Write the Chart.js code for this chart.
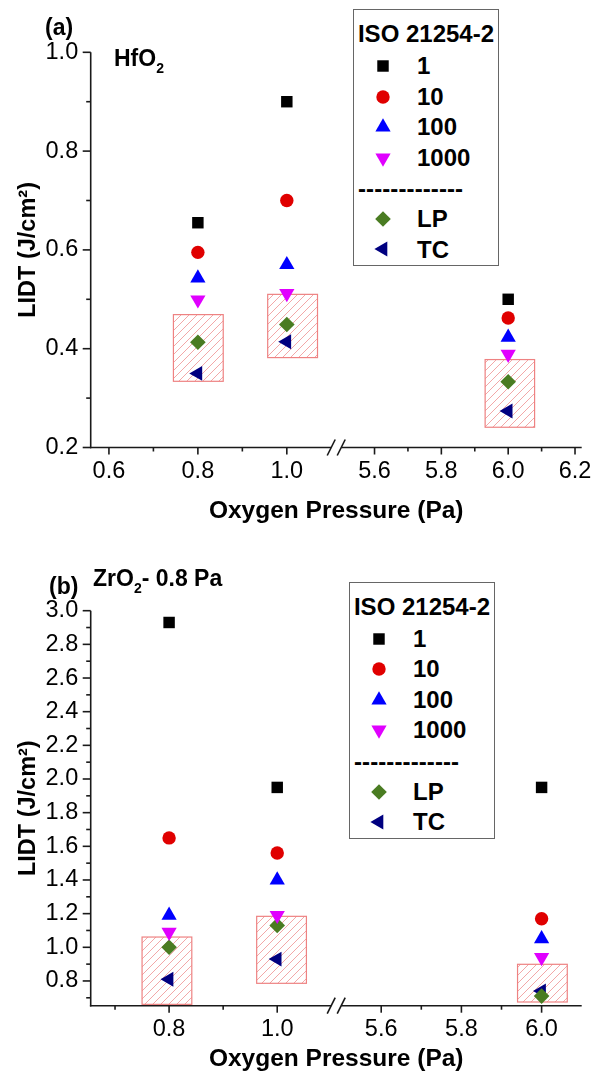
<!DOCTYPE html>
<html>
<head>
<meta charset="utf-8">
<script src="https://cdn.jsdelivr.net/npm/chart.js@4.4.1/dist/chart.umd.min.js"></script>
<style>
  body { margin: 0; background: #fff; font-family: 'Liberation Sans', Arial, sans-serif; }
  #page { position: relative; width: 602px; height: 1083px; overflow: hidden; background: #fff; }
  .panel { position: absolute; left: 0; }
  .note { position: absolute; font-size: 23px; font-weight: bold; line-height: 1; white-space: nowrap; color: #000; }
  .note .sub { font-size: 14px; position: relative; top: 7px; }
  .legend { position: absolute; box-sizing: border-box; width: 146px; height: 257px; border: 1px solid #666; background: #fff; }
  .legend .txt { position: absolute; font-size: 24px; font-weight: bold; line-height: 1; white-space: nowrap; color: #000; }
  .legend canvas { position: absolute; }
</style>
</head>
<body>
<div id="page">
  <canvas id="hfChart" class="panel" width="602" height="541" style="top:0"></canvas>
  <canvas id="zrChart" class="panel" width="602" height="542" style="top:541px"></canvas>
  <div class="note" style="left:45px; top:16px">(a)</div>
  <div class="note" style="left:114px; top:47px">HfO<span class="sub">2</span></div>
  <div class="note" style="left:49px; top:575px">(b)</div>
  <div class="note" style="left:93px; top:567px">ZrO<span class="sub">2</span>- 0.8 Pa</div>
</div>
<script>
// oxygen pressure of each sample (Pa)
const pressures = [0.8, 1.0, 6.0];
const seriesLabels = ['1', '10', '100', '1000', 'LP', 'TC'];

// HfO2: LIDT (J/cm²) per ISO 21254-2 shot number, then LP and TC
const hfShot1 = [0.655, 0.900, 0.500];
const hfShot10 = [0.595, 0.700, 0.462];
const hfShot100 = [0.543, 0.570, 0.423];
const hfShot1000 = [0.499, 0.512, 0.389];
const hfLP = [0.413, 0.449, 0.333];
const hfTC = [0.350, 0.414, 0.274];
// hatched ranges
const hfBoxFrom = [0.745, 0.957, 5.931];
const hfBoxTo = [0.857, 1.069, 6.079];
const hfBoxLow = [0.334, 0.382, 0.241];
const hfBoxHigh = [0.469, 0.510, 0.378];

// ZrO2
const zrShot1 = [2.93, 1.95, 1.95];
const zrShot10 = [1.65, 1.56, 1.17];
const zrShot100 = [1.19, 1.40, 1.05];
const zrShot1000 = [1.09, 1.19, 0.94];
const zrLP = [1.00, 1.13, 0.71];
const zrTC = [0.81, 0.93, 0.74];
const zrBoxFrom = [0.750, 0.962, 5.940];
const zrBoxTo = [0.842, 1.054, 6.064];
const zrBoxLow = [0.661, 0.786, 0.675];
const zrBoxHigh = [1.061, 1.184, 0.899];

// axis ranges (x is broken between 1.1 and 5.5)
const hfXLeft = [0.559, 1.1];
const hfXRight = [5.5, 6.22];
const hfYRange = [0.2, 1.0];
const zrXLeft = [0.655, 1.1];
const zrXRight = [5.5, 6.1];
const zrYRange = [0.653, 3.0];

// tick labels
const hfXTicks = [0.6, 0.8, 1.0, 5.6, 5.8, 6.0, 6.2];
const hfXMinor = [0.7, 0.9, 5.7, 5.9, 6.1];
const hfYTicks = [0.2, 0.4, 0.6, 0.8, 1.0];
const hfYMinor = [0.3, 0.5, 0.7, 0.9];
const zrXTicks = [0.8, 1.0, 5.6, 5.8, 6.0];
const zrXMinor = [0.7, 0.9, 5.7, 5.9];
const zrYTicks = [0.8, 1.0, 1.2, 1.4, 1.6, 1.8, 2.0, 2.2, 2.4, 2.6, 2.8, 3.0];
const zrYMinor = [0.7, 0.9, 1.1, 1.3, 1.5, 1.7, 1.9, 2.1, 2.3, 2.5, 2.7, 2.9];

const FONT = "'Liberation Sans', Arial, sans-serif";

const seriesStyle = [
  { pointStyle: 'rect', radius: 8.1, rotation: 0, color: '#000000' },
  { pointStyle: 'circle', radius: 6.7, rotation: 0, color: '#e00000' },
  { pointStyle: 'triangle', radius: 8.8, rotation: 0, color: '#0000ff' },
  { pointStyle: 'triangle', radius: 8.8, rotation: 180, color: '#e000ff' },
  { pointStyle: 'rectRot', radius: 7.8, rotation: 0, color: '#4a7c22' },
  { pointStyle: 'triangle', radius: 8.6, rotation: -90, color: '#000080' }
];

// split: share of the axis length given to the left part, gap: share left blank at the break
const axisBreaks = {};

class BrokenLinearScale extends Chart.LinearScale {
  static id = 'brokenLinear';
  static defaults = Chart.LinearScale.defaults;

  get brk() { return axisBreaks[this.chart.canvas.id]; }

  buildTicks() {
    const b = this.brk;
    this._startValue = this.min;
    this._endValue = this.max;
    return [...b.major, ...b.minor].sort((p, q) => p - q).map(v => ({ value: v }));
  }

  getPixelForValue(value) {
    const b = this.brk;
    let d;
    if (value <= (b.left[1] + b.right[0]) / 2) {
      d = (value - b.left[0]) / (b.left[1] - b.left[0]) * b.split;
    } else {
      d = b.split + b.gap + (value - b.right[0]) / (b.right[1] - b.right[0]) * (1 - b.split - b.gap);
    }
    return this.getPixelForDecimal(d);
  }

  getValueForPixel(pixel) {
    const b = this.brk;
    const d = this.getDecimalForPixel(pixel);
    if (d <= b.split + b.gap / 2) return b.left[0] + d / b.split * (b.left[1] - b.left[0]);
    return b.right[0] + (d - b.split - b.gap) / (1 - b.split - b.gap) * (b.right[1] - b.right[0]);
  }
}
Chart.register(BrokenLinearScale);

function isIn(list, v) {
  return list.some(t => Math.abs(t - v) < 1e-9);
}

function makeHatch(ctx) {
  const s = 8;
  const c = document.createElement('canvas');
  c.width = s; c.height = s;
  const p = c.getContext('2d');
  p.strokeStyle = 'rgba(238, 140, 140, 0.85)';
  p.lineWidth = 0.9;
  p.beginPath();
  p.moveTo(0, s); p.lineTo(s, 0);
  p.moveTo(-1, 1); p.lineTo(1, -1);
  p.moveTo(s - 1, s + 1); p.lineTo(s + 1, s - 1);
  p.stroke();
  return ctx.createPattern(c, 'repeat');
}

// hatched ranges, axis lines, tick marks and the break symbol
function framePlugin(cfg) {
  return {
    id: 'frame',
    beforeDatasetsDraw(chart) {
      const { ctx, chartArea: a, scales: { x, y } } = chart;
      const b = axisBreaks[chart.canvas.id];
      ctx.save();

      const hatch = makeHatch(ctx);
      cfg.boxFrom.forEach((from, i) => {
        const x0 = x.getPixelForValue(from), x1 = x.getPixelForValue(cfg.boxTo[i]);
        const y0 = y.getPixelForValue(cfg.boxHigh[i]), y1 = y.getPixelForValue(cfg.boxLow[i]);
        ctx.fillStyle = hatch;
        ctx.fillRect(x0, y0, x1 - x0, y1 - y0);
        ctx.strokeStyle = '#ee8282';
        ctx.lineWidth = 1.2;
        ctx.strokeRect(x0, y0, x1 - x0, y1 - y0);
      });

      ctx.strokeStyle = '#1a1a1a';
      ctx.lineWidth = 1.6;
      ctx.lineCap = 'butt';
      const line = (x0, y0, x1, y1) => { ctx.beginPath(); ctx.moveTo(x0, y0); ctx.lineTo(x1, y1); ctx.stroke(); };

      // y axis
      line(a.left, a.top, a.left, a.bottom + 0.8);
      cfg.yMajor.forEach(v => { const py = y.getPixelForValue(v); line(a.left - 8, py, a.left, py); });
      cfg.yMinor.forEach(v => { const py = y.getPixelForValue(v); line(a.left - 4.5, py, a.left, py); });

      // x axis with break
      const bx = x.getPixelForDecimal(b.split + b.gap / 2);
      line(a.left - 0.8, a.bottom, bx - 5, a.bottom);
      line(bx + 5, a.bottom, a.right, a.bottom);
      [bx - 5, bx + 5].forEach(c => line(c - 4, a.bottom + 8, c + 4, a.bottom - 8));
      cfg.xMajor.forEach(v => { const px = x.getPixelForValue(v); line(px, a.bottom, px, a.bottom + 7); });
      cfg.xMinor.forEach(v => { const px = x.getPixelForValue(v); line(px, a.bottom, px, a.bottom + 4); });

      ctx.restore();
    }
  };
}

function makePanel(cfg) {
  axisBreaks[cfg.id] = { left: cfg.xLeft, right: cfg.xRight, split: 0.49, gap: 0.02, major: cfg.xMajor, minor: cfg.xMinor };
  const yAll = [...cfg.yMajor, ...cfg.yMinor].sort((p, q) => p - q);

  const datasets = cfg.series.map((vals, k) => ({
    label: seriesLabels[k],
    data: pressures.map((p, i) => ({ x: p, y: vals[i] })),
    pointStyle: seriesStyle[k].pointStyle,
    pointRadius: seriesStyle[k].radius,
    rotation: seriesStyle[k].rotation,
    backgroundColor: seriesStyle[k].color,
    borderColor: seriesStyle[k].color,
    borderWidth: 0,
    showLine: false,
    clip: false
  }));

  const tickFont = { family: FONT, size: 23.5 };
  const hiddenGrid = { display: true, drawOnChartArea: false, drawTicks: true, color: 'rgba(0,0,0,0)', tickColor: 'rgba(0,0,0,0)' };

  return new Chart(document.getElementById(cfg.id), {
    type: 'scatter',
    data: { datasets },
    options: {
      responsive: false,
      animation: false,
      events: [],
      layout: { padding: { top: cfg.padTop, right: 20.3, left: 0, bottom: 0 } },
      plugins: { legend: { display: false }, tooltip: { enabled: false } },
      scales: {
        x: {
          type: 'brokenLinear',
          position: 'bottom',
          min: cfg.xLeft[0],
          max: cfg.xRight[1],
          grid: { ...hiddenGrid, tickLength: 7 },
          border: { display: false },
          ticks: {
            autoSkip: false, maxRotation: 0, minRotation: 0, padding: 3,
            color: '#000', font: tickFont,
            callback: v => isIn(cfg.xMajor, v) ? v.toFixed(1) : ''
          },
          title: { display: true, text: 'Oxygen Pressure (Pa)', color: '#000', font: { family: FONT, size: 24.5, weight: 'bold' }, padding: { top: 0, bottom: cfg.xTitlePad } },
          afterFit: s => { s.height = cfg.xHeight; }
        },
        y: {
          type: 'linear',
          min: cfg.yRange[0],
          max: cfg.yRange[1],
          afterBuildTicks: s => { s.ticks = yAll.map(v => ({ value: v })); },
          grid: { ...hiddenGrid, tickLength: 8 },
          border: { display: false },
          ticks: {
            autoSkip: false, padding: 4.5,
            color: '#000', font: tickFont,
            callback: v => isIn(cfg.yMajor, v) ? v.toFixed(1) : ''
          },
          title: { display: true, text: 'LIDT (J/cm²)', color: '#000', font: { family: FONT, size: 23.5, weight: 'bold' }, padding: { top: 14, bottom: 0 } },
          afterFit: s => { s.width = 90.7; }
        }
      }
    },
    plugins: [framePlugin(cfg)]
  });
}

// legend box: shot-number series, a dashed separator, then LP / TC
function makeLegend(left, top) {
  const box = document.createElement('div');
  box.className = 'legend';
  box.style.left = left + 'px';
  box.style.top = top + 'px';
  const addText = (text, x, y, centred) => {
    const t = document.createElement('div');
    t.className = 'txt';
    t.textContent = text;
    t.style.top = (y - 11.7) + 'px';
    if (centred) { t.style.left = '0'; t.style.width = '144px'; t.style.textAlign = 'center'; }
    else t.style.left = x + 'px';
    box.appendChild(t);
  };
  addText('ISO 21254-2', 0, 24, true);
  const rowY = [56, 86.5, 117, 147.5, 209, 239.3];
  seriesLabels.forEach((lab, k) => {
    const c = document.createElement('canvas');
    c.width = 24; c.height = 24;
    c.style.left = '17px';
    c.style.top = (rowY[k] - 12) + 'px';
    const g = c.getContext('2d');
    g.fillStyle = seriesStyle[k].color;
    Chart.helpers.drawPoint(g, { pointStyle: seriesStyle[k].pointStyle, radius: seriesStyle[k].radius, rotation: seriesStyle[k].rotation, borderWidth: 0 }, 12, 12);
    box.appendChild(c);
    addText(lab, 63, rowY[k], false);
  });
  const dash = document.createElement('div');
  dash.className = 'txt';
  dash.textContent = '-------------';
  dash.style.left = '4px';
  dash.style.top = '167px';
  dash.style.letterSpacing = '0.1px';
  box.appendChild(dash);
  document.getElementById('page').appendChild(box);
}

makePanel({
  id: 'hfChart',
  series: [hfShot1, hfShot10, hfShot100, hfShot1000, hfLP, hfTC],
  boxFrom: hfBoxFrom, boxTo: hfBoxTo, boxLow: hfBoxLow, boxHigh: hfBoxHigh,
  xLeft: hfXLeft, xRight: hfXRight, yRange: hfYRange,
  xMajor: hfXTicks, xMinor: hfXMinor, yMajor: hfYTicks, yMinor: hfYMinor,
  padTop: 52.3, xHeight: 93.5, xTitlePad: 15.5
});

makePanel({
  id: 'zrChart',
  series: [zrShot1, zrShot10, zrShot100, zrShot1000, zrLP, zrTC],
  boxFrom: zrBoxFrom, boxTo: zrBoxTo, boxLow: zrBoxLow, boxHigh: zrBoxHigh,
  xLeft: zrXLeft, xRight: zrXRight, yRange: zrYRange,
  xMajor: zrXTicks, xMinor: zrXMinor, yMajor: zrYTicks, yMinor: zrYMinor,
  padTop: 69.7, xHeight: 77.3, xTitlePad: 9.2
});

makeLegend(353, 9);
makeLegend(349, 581.7);
</script>
</body>
</html>
